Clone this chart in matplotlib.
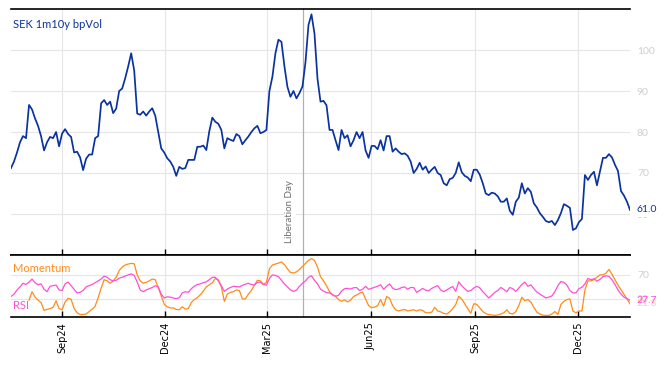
import pandas as pd
import matplotlib
matplotlib.use("Agg")
import matplotlib.pyplot as plt
import matplotlib.dates as mdates

# SEK 1m10y bp vol (roughly every 2 business days)
vol = [71.2, 72.8, 75.0, 77.5, 79.0, 78.5, 86.6, 85.5, 83.3, 81.5,
       79.0, 75.5, 77.5, 78.8, 78.5, 80.0, 76.5, 79.6, 80.7, 79.5,
       78.8, 75.0, 75.2, 73.8, 70.7, 73.5, 74.5, 74.5, 78.5, 79.0,
       87.0, 87.8, 86.6, 87.4, 84.6, 85.7, 90.0, 90.6, 93.1, 96.0,
       99.2, 95.0, 84.5, 84.2, 85.0, 84.0, 85.0, 85.8, 84.0, 80.0,
       76.0, 75.0, 73.6, 72.8, 71.5, 69.3, 71.5, 71.0, 71.2, 73.2,
       73.2, 73.2, 76.4, 76.4, 76.7, 75.6, 80.2, 83.5, 82.5, 82.0,
       80.5, 76.0, 78.5, 78.1, 77.8, 79.5, 79.0, 77.0, 78.0, 78.9,
       80.0, 80.9, 81.5, 79.7, 80.0, 80.5, 90.0, 93.5, 99.2, 102.5,
       102.0, 96.0, 91.0, 88.6, 90.0, 88.2, 89.5, 91.1, 97.0, 106.1,
       108.7, 104.0, 93.0, 87.4, 87.6, 86.5, 80.5, 80.5, 78.0, 75.6,
       80.5, 78.5, 79.2, 76.5, 78.0, 80.0, 78.5, 80.0, 75.5, 73.7,
       76.6, 76.6, 75.8, 78.0, 75.5, 79.0, 79.0, 75.2, 76.0, 75.2,
       74.6, 74.8, 74.2, 72.8, 70.0, 71.0, 72.5, 70.8, 71.6, 70.0,
       70.8, 71.5, 70.0, 69.5, 67.5, 67.0, 68.5, 68.8, 70.0, 72.6,
       70.2, 69.3, 68.9, 68.0, 70.8, 70.8, 69.6, 67.5, 65.0, 64.6,
       65.2, 65.0, 64.3, 63.0, 63.0, 63.8, 60.8, 59.8, 63.0, 64.0,
       67.5, 65.0, 66.3, 65.4, 62.6, 61.6, 60.2, 59.3, 58.3, 58.0,
       58.3, 57.3, 58.5, 60.2, 62.4, 62.0, 61.5, 56.1, 56.5, 58.0,
       58.8, 69.5, 68.3, 69.5, 70.3, 67.0, 70.3, 73.7, 73.7, 74.6,
       73.8, 72.0, 70.5, 65.6, 64.5, 63.0, 61.0]

rsi = [34, 38, 45, 50, 56, 54, 58, 63, 57, 53.5,
       55, 46, 42, 51, 52, 53, 45, 44, 55, 58,
       52, 46, 40, 41, 44, 50, 52, 54, 57, 60,
       63, 68, 66, 62, 60, 61, 64.5, 66, 68, 70,
       71.5, 69, 58, 45, 42, 45, 47, 49, 52, 50,
       38, 31.6, 33.5, 33, 31.6, 30.5, 32, 40, 42, 41,
       47, 51, 54, 55, 57, 58.5, 62, 66, 66, 60,
       52, 42.6, 46.5, 49, 51, 50.5, 50, 52.5, 54.5, 56,
       54, 53, 57.5, 58, 54, 53, 64, 70, 69, 67,
       61, 55, 50, 45, 42.6, 44.5, 51, 56, 60, 66,
       68.5, 61, 55, 46.4, 43, 40.5, 40, 37, 34.4, 36,
       43, 47, 47.5, 46.4, 48.5, 49, 44, 46, 51, 46,
       47.5, 49.5, 51, 53.5, 46, 51, 55, 48, 45.5, 46.4,
       49, 50, 46, 49, 49, 41, 44, 47.5, 44.5, 43.5,
       47.5, 50, 52, 45, 42, 45, 48, 50.5, 42.6, 58.5,
       52, 47, 42.6, 44, 48, 51, 48.5, 42, 37, 31.6,
       36, 41, 44, 49, 46, 42, 49, 47, 42.6, 48,
       54, 58, 51, 53.5, 47, 41.5, 38, 35, 31.6, 33,
       35, 42, 52, 59, 57.5, 53, 44, 40, 40, 47,
       49.5, 55, 64, 62, 63.5, 59.5, 62.5, 67, 68.4, 67.5,
       62, 54, 45, 38, 33, 30.5, 27.7]

nan = float("nan")
mom = [nan, nan, nan, nan, nan, nan, 28, 42, 33, 28,
       24, 11, 12.6, 14, 16, 27, 14, 12, 25, 31,
       29.5, 14, 7, 4.2, 4.2, 5, 9, 13, 18, 32,
       48, 62, 60, 56, 60, 66, 77, 83, 86.4, 88,
       89, 88.5, 70, 60, 56, 57.5, 60, 63, 62, 49,
       35, 21, 17, 15, 15, 12.5, 12, 17, 13, 14,
       24, 29, 32, 37, 43, 50, 53.5, 57, 64, 62,
       50, 26, 38, 41, 42, 45, 44, 30, 30, 38,
       44, 53, 61, 60, 54, 58, 80, 86.4, 88, 89.5,
       91.5, 87, 80, 74, 73, 75, 79, 84, 89, 94,
       97, 94, 83, 67, 60, 52, 42, 37, 34.4, 29,
       26, 28.5, 25, 28, 34, 36.5, 39.5, 41.5, 30, 19,
       15.5, 16.5, 18.5, 29, 18, 34, 31, 19, 12, 10,
       11.5, 12.5, 10, 11, 12, 10, 12, 11, 7, 7,
       8, 16, 10, 8.5, 6, 5, 8.5, 14, 20.7, 34.4,
       30, 22, 14, 6, 22, 21, 15, 9, 5.5, 4.2,
       3.5, 2.6, 3.5, 5, 7, 12, 6, 5, 9, 19,
       33, 27, 29, 25, 16, 8, 5, 3, 2.6, 2.6,
       5, 9, 4, 20.7, 26, 29, 30, 10, 7, 10,
       10, 45, 60, 60, 62, 66, 70, 70, 72.7, 79,
       71, 62, 53, 45.4, 38, 30, 21.8]

start, end = "2024-07-18", "2026-01-16"
event_date = pd.Timestamp("2025-04-02")
event_label = "Liberation Day"
title = "SEK 1m10y bpVol"

dates = pd.date_range(start, end, periods=len(vol))

blue = "#0a33a0"
orange = "#ff8c1a"
pink = "#ff4fd6"
gridc = "#e6e6e6"
labc = "#cfcfcf"

plt.rcParams["font.family"] = ["Lato", "DejaVu Sans"]

fig = plt.figure(figsize=(6.68, 3.66), dpi=100)
ax = fig.add_axes([11 / 668, 1 - 255 / 366, 619 / 668, 246 / 366])
ax2 = fig.add_axes([11 / 668, 1 - 317 / 366, 619 / 668, 62 / 366], sharex=ax)

# main panel
ax.plot(dates, vol, color=blue, lw=1.25, zorder=3)
ax.set_ylim(50, 110)
ax.set_yticks([60, 70, 80, 90, 100])
ax.set_xlim(dates[0], dates[-1])

# oscillators
ax2.plot(dates, mom, color=orange, lw=0.9, zorder=3)
ax2.plot(dates, rsi, color=pink, lw=0.9, zorder=3)
ax2.set_ylim(0, 103)
ax2.set_yticks([30, 70])

for a in (ax, ax2):
    a.yaxis.tick_right()
    a.tick_params(axis="y", length=0, pad=5, labelsize=7.5, labelcolor=labc)
    a.grid(True, color=gridc, lw=0.8, zorder=0)
    a.set_axisbelow(True)
    for s in ("left", "right"):
        a.spines[s].set_visible(False)
    for s in ("top", "bottom"):
        a.spines[s].set_color("black")
        a.spines[s].set_linewidth(1.2)
    a.xaxis.set_major_locator(mdates.MonthLocator(bymonth=[3, 6, 9, 12]))
    a.xaxis.set_major_formatter(mdates.DateFormatter("%b%y"))
    a.tick_params(axis="x", direction="in", length=4, width=1, color="black")
    a.axvline(event_date, color="#b0b0b0", lw=0.9, zorder=2)

ax.tick_params(axis="x", labelbottom=False)
for lbl in ax2.get_xticklabels():
    lbl.set_rotation(90)
    lbl.set_fontsize(7)
    lbl.set_family("DejaVu Sans")

ax.annotate(event_label, xy=(event_date, 53), xytext=(-9.5, 0),
            textcoords="offset points", rotation=90, ha="center", va="bottom",
            fontsize=7, color="#6e6e6e",
            bbox=dict(facecolor="white", edgecolor="none", pad=1))

ax.text(0.004, 0.935, title, transform=ax.transAxes, va="center",
        color=blue, fontsize=8)
ax2.text(0.004, 0.79, "Momentum", transform=ax2.transAxes, va="center",
         color=orange, fontsize=8)
ax2.text(0.004, 0.18, "RSI", transform=ax2.transAxes, va="center",
         color=pink, fontsize=8)

# last values on the right
ax.annotate(f"{vol[-1]:.1f}", xy=(1, vol[-1]), xycoords=("axes fraction", "data"),
            xytext=(5, 0), textcoords="offset points", va="center",
            fontsize=7.5, color=blue,
            bbox=dict(facecolor="white", edgecolor="none", pad=1.8))
ax2.annotate(f"{mom[-1]:.1f}", xy=(1, mom[-1]), xycoords=("axes fraction", "data"),
             xytext=(5, 0), textcoords="offset points", va="center",
             fontsize=7.5, color=orange, alpha=0.4)
ax2.annotate(f"{rsi[-1]:.1f}", xy=(1, rsi[-1]), xycoords=("axes fraction", "data"),
             xytext=(5, 0), textcoords="offset points", va="center",
             fontsize=7.5, color=pink)

fig.savefig("out.png", dpi=100)
